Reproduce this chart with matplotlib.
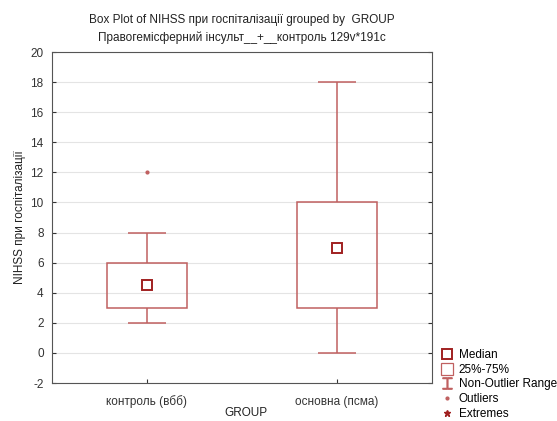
import matplotlib.pyplot as plt
from matplotlib.lines import Line2D
from matplotlib.patches import Rectangle

plt.rcParams['font.family'] = ['Liberation Sans', 'DejaVu Sans']
plt.rcParams['axes.unicode_minus'] = False

groups = ['контроль (вбб)', 'основна (псма)']
medians = [4.5, 7]
q1 = [3, 3]
q3 = [6, 10]
whisk_lo = [2, 0]
whisk_hi = [8, 18]
outliers = [[12], []]

box_col = '#c06060'
med_col = '#a02020'

fig = plt.figure(figsize=(5.57, 4.21), dpi=100)
ax = fig.add_axes([52/557, 1 - 383/421, 380/557, 331/421])

for i in range(len(groups)):
    x = i + 1
    ax.add_patch(Rectangle((x - 0.21, q1[i]), 0.42, q3[i] - q1[i],
                           fill=False, edgecolor=box_col, lw=1.1, zorder=3))
    ax.vlines(x, q3[i], whisk_hi[i], color=box_col, lw=1.1, zorder=3)
    ax.vlines(x, whisk_lo[i], q1[i], color=box_col, lw=1.1, zorder=3)
    ax.hlines([whisk_lo[i], whisk_hi[i]], x - 0.1, x + 0.1, color=box_col, lw=1.1, zorder=3)
    ax.plot(x, medians[i], 's', ms=7, mfc='white', mec=med_col, mew=1.4, zorder=4)
    if outliers[i]:
        ax.plot([x] * len(outliers[i]), outliers[i], 'o', ms=2, color=box_col, zorder=4)

ax.set_xlim(0.5, 2.5)
ax.set_ylim(-2, 20)
ax.set_yticks(range(-2, 21, 2))
ax.set_xticks([1, 2])
ax.set_xticklabels(groups, fontsize=8.5)
ax.tick_params(axis='y', labelsize=8.5, direction='in', length=3, right=True,
               colors='#333333', pad=6)
ax.tick_params(axis='x', direction='in', length=3, colors='#333333', pad=9)
ax.grid(axis='y', color='#e4e4e4', lw=0.8, zorder=0)
for s in ax.spines.values():
    s.set_color('#555555')
    s.set_linewidth(0.8)

ax.set_ylabel('NIHSS при госпіталізації', fontsize=8.5, color='#222222', labelpad=3)
fig.text(246/557, 1 - 413/421, 'GROUP', fontsize=8.5, color='#222222',
         ha='center', va='center')
ax.set_title('Box Plot of NIHSS при госпіталізації grouped by  GROUP\n'
             'Правогемісферний інсульт__+__контроль 129v*191c',
             fontsize=8.5, color='#222222', pad=8, linespacing=1.6)

handles = [
    Line2D([], [], ls='none', marker='s', ms=7, mfc='white', mec=med_col, mew=1.4),
    Line2D([], [], ls='none', marker='s', ms=8, mfc='white', mec=box_col, mew=0.9),
    Line2D([], [], ls='none', marker='$\u2336$', ms=8, color=box_col),
    Line2D([], [], ls='none', marker='o', ms=2, color=box_col),
    Line2D([], [], ls='none', marker='*', ms=5, color=med_col),
]
labels = ['Median', '25%-75%', 'Non-Outlier Range', 'Outliers', 'Extremes']
fig.legend(handles, labels, loc='upper left', bbox_to_anchor=(442/557, 1 - 349/421),
           frameon=False, fontsize=8.5, handlelength=0.8, handletextpad=0.6,
           labelspacing=0.23, borderpad=0, borderaxespad=0)

fig.savefig('out.png', dpi=100)
